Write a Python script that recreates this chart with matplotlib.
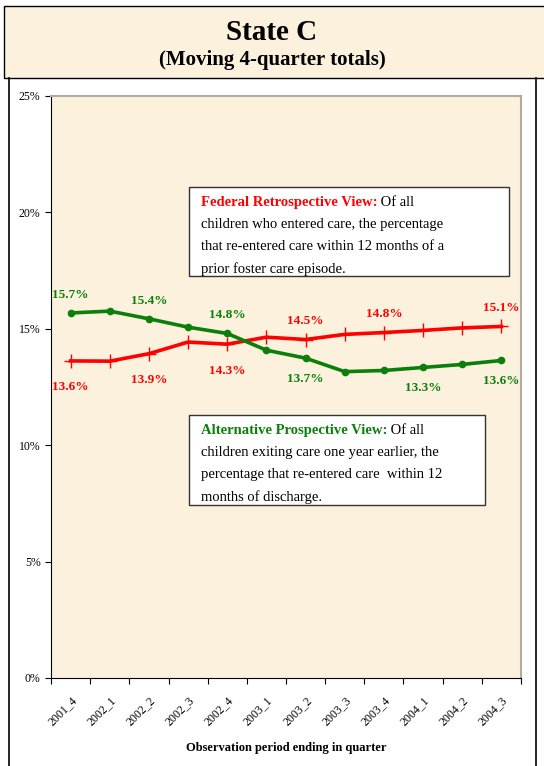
import numpy as np
import matplotlib
matplotlib.use("Agg")
from matplotlib import pyplot as plt
from matplotlib.patches import Rectangle
from matplotlib.lines import Line2D

quarters = ["2001_4", "2002_1", "2002_2", "2002_3", "2002_4", "2003_1",
            "2003_2", "2003_3", "2003_4", "2004_1", "2004_2", "2004_3"]
federal = [13.62, 13.61, 13.93, 14.43, 14.34, 14.64, 14.54, 14.76, 14.84, 14.93, 15.04, 15.1]
alternative = [15.68, 15.76, 15.43, 15.07, 14.8, 14.08, 13.74, 13.16, 13.21, 13.34, 13.47, 13.64]
federal_lab = [0, 2, 4, 6, 8, 11]
federal_lab_pos = ["below", "below", "below", "above", "above", "above"]
alt_lab = [0, 2, 4, 6, 9, 11]
alt_lab_pos = ["above", "above", "above", "below", "below", "below"]
yticks = [0, 5, 10, 15, 20, 25]

RED = "#ff0000"
GREEN = "#0a800a"
PAPER = "#fbf1dc"
plt.rcParams['font.family'] = ['Liberation Serif', 'DejaVu Serif']

fig = plt.figure(figsize=(5.44, 7.66), dpi=100)

# header box
fig.patches.append(Rectangle((4/544, 1-78/766), 1.0, 72/766, transform=fig.transFigure,
                             facecolor=PAPER, edgecolor="black", lw=1.0))
fig.text(0.5, 1-32/766, "State C", ha="center", va="center", fontsize=21, fontweight="bold")
fig.text(0.5, 1-60/766, "(Moving 4-quarter totals)", ha="center", va="center",
         fontsize=15, fontweight="bold")
# outer frame lines
fig.add_artist(Line2D([9/544, 9/544], [0, 1-78/766], transform=fig.transFigure, color="black", lw=1.2))
fig.add_artist(Line2D([536/544, 536/544], [0, 1-78/766], transform=fig.transFigure, color="black", lw=1.2))

ax = fig.add_axes([51/544, 1-678/766, 470/544, 582/766])
ax.set_facecolor(PAPER)
x = np.arange(len(quarters))

ax.plot(x, federal, color=RED, lw=2.6, marker="+", ms=10, mew=1.0, zorder=3)
ax.plot(x, alternative, color=GREEN, lw=2.6, marker="o", ms=4.5, zorder=4)

for i, p in zip(federal_lab, federal_lab_pos):
    dy = 13.5 if p == "above" else -19
    ax.annotate("%.1f%%" % federal[i], (x[i], federal[i]), xytext=(0, dy), textcoords="offset points",
                ha="center", va="center", color=RED, fontsize=9.5, fontweight="bold")
for i, p in zip(alt_lab, alt_lab_pos):
    dy = 13 if p == "above" else -15
    ax.annotate("%.1f%%" % alternative[i], (x[i], alternative[i]), xytext=(0, dy), textcoords="offset points",
                ha="center", va="center", color=GREEN, fontsize=9.5, fontweight="bold")

ax.set_xlim(-0.5, len(quarters) - 0.5)
ax.set_ylim(0, 25)
ax.set_yticks(yticks)
ax.set_yticklabels(["%d%%" % v for v in yticks], fontsize=8.5)
ax.set_xticks(np.arange(-0.5, len(quarters)))
ax.set_xticklabels([])
ax.set_xticks(x, minor=True)
ax.set_xticklabels(quarters, minor=True, rotation=45, ha="right", rotation_mode="anchor", fontsize=8.5)
ax.tick_params(axis="x", which="minor", length=0, pad=12)
ax.tick_params(axis="both", which="major", length=4, direction="out")
for s in ["top", "right"]:
    ax.spines[s].set_color("#b0aca4")
    ax.spines[s].set_linewidth(1.5)
ax.set_xlabel("Observation period ending in quarter", fontsize=9, fontweight="bold", labelpad=10)

# explanation boxes
def note(x0, y0, w, h, head, color, lines):
    ax.add_patch(Rectangle((x0, y0), w, h, transform=ax.transAxes, facecolor="white",
                           edgecolor="#333333", lw=1.0, zorder=5))
    tx = x0 + 0.025
    ty = y0 + h - 0.032
    t = ax.text(tx, ty, head, transform=ax.transAxes, color=color, fontsize=10.5,
                fontweight="bold", va="baseline", zorder=6)
    ax.annotate(" " + lines[0], xy=(1, 0), xycoords=t, va="bottom", fontsize=10.5, zorder=6)
    for k, ln in enumerate(lines[1:]):
        ax.text(tx, ty - (k + 1) * 0.0385, ln, transform=ax.transAxes, fontsize=10.5,
                va="baseline", zorder=6)

note(0.2936, 0.6907, 0.6809, 0.1529, "Federal Retrospective View:", RED,
     ["Of all", "children who entered care, the percentage",
      "that re-entered care within 12 months of a", "prior foster care episode."])
note(0.2936, 0.2973, 0.6298, 0.1546, "Alternative Prospective View:", GREEN,
     ["Of all", "children exiting care one year earlier, the",
      "percentage that re-entered care  within 12", "months of discharge."])

fig.savefig("out.png", dpi=100)
